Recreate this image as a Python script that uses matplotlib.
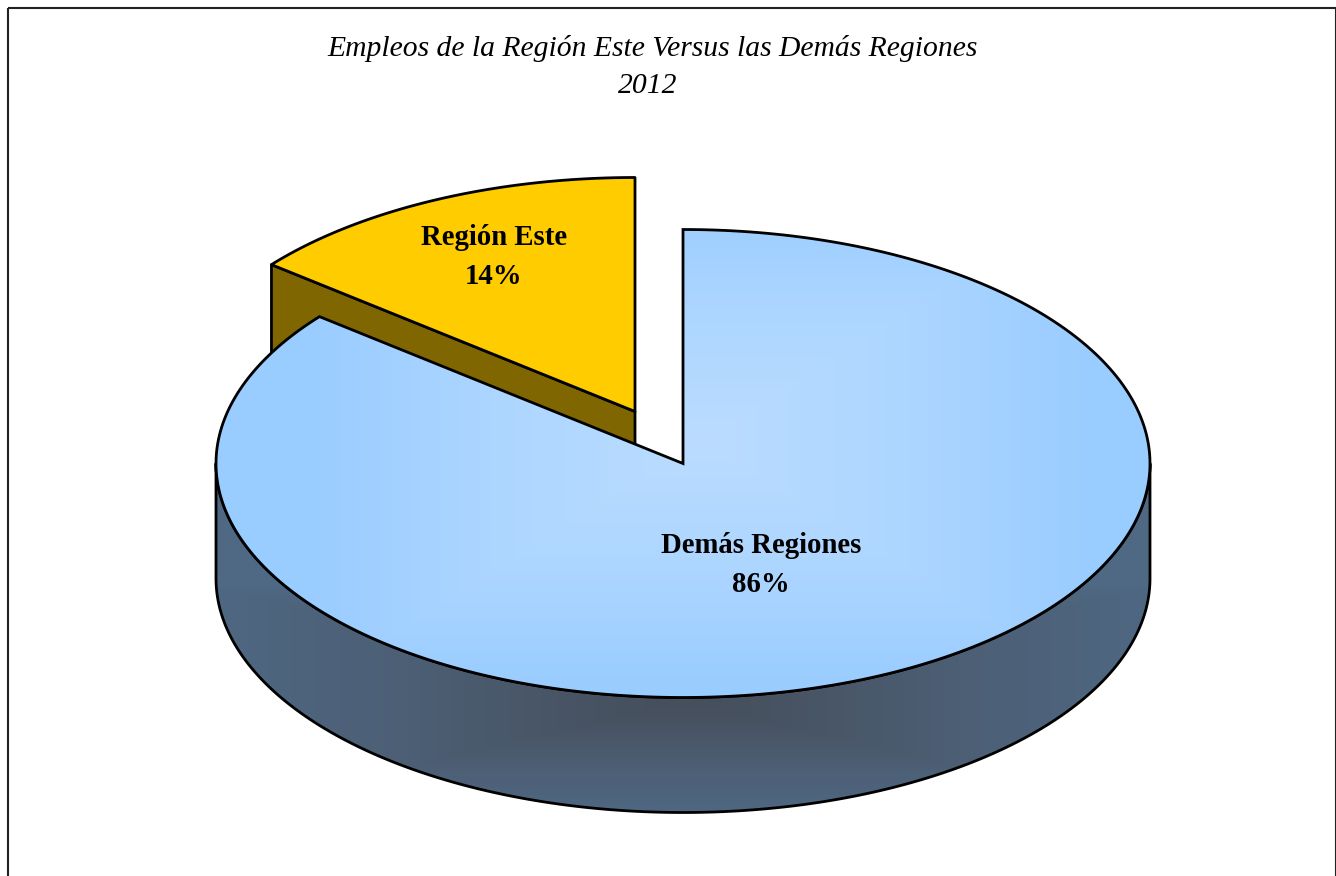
import numpy as np
import matplotlib
matplotlib.use("Agg")
import matplotlib.pyplot as plt
from matplotlib.patches import Polygon, Rectangle
from matplotlib.colors import LinearSegmentedColormap

labels = ["Demás Regiones", "Región Este"]
values = [85.8, 14.2]
title = "Empleos de la Región Este Versus las Demás Regiones"
year = "2012"

plt.rcParams['font.family'] = ['Liberation Serif', 'DejaVu Serif']
cx, cy, rx, ry, depth = 683, 463.5, 467, 234, 115
offx, offy = -48, -52

def ell(t, x0, y0):
    t = np.radians(t)
    return np.column_stack([x0 + rx * np.sin(t), y0 - ry * np.cos(t)])

fig = plt.figure(figsize=(13.36, 8.76), dpi=100)
ax = fig.add_axes([0, 0, 1, 1])
ax.set_xlim(0, 1336)
ax.set_ylim(876, 0)
ax.axis('off')
lw = 2.0
edge = 'black'

split = 360 * values[0] / sum(values)

# pulled out slice, its walls go first
yx, yy = cx + offx, cy + offy
yellow_arc = ell(np.linspace(split, 360, 60), yx, yy)
p0 = yellow_arc[0]
wall = np.array([p0, [yx, yy], [yx, yy + depth], [p0[0], p0[1] + depth]])
ax.add_patch(Polygon(wall, fc='#806600', ec=edge, lw=lw, joinstyle='round', zorder=1))
ax.add_patch(Polygon(np.vstack([yellow_arc, [[yx, yy]]]), fc='#FFCC00', ec=edge, lw=lw,
                     joinstyle='round', zorder=2))

# side of big slice
xs = np.arange(200, 1170)
ys = np.arange(450, 830)
X, Y = np.meshgrid(xs, ys)
d = np.maximum(np.abs(X - cx) / 480, np.abs(Y - 700) / 115)
d = np.clip(d, 0, 1) ** 1.25
side_cmap = LinearSegmentedColormap.from_list('side', ['#464F5C', '#4C5F75', '#4F6883'])
front = np.vstack([ell(np.linspace(90, 270, 200), cx, cy),
                   ell(np.linspace(270, 90, 200), cx, cy + depth)])
side = Polygon(front, fc='none', ec=edge, lw=lw, joinstyle='round', zorder=4)
ax.add_patch(side)
im = ax.imshow(d, extent=(200, 1170, 830, 450), cmap=side_cmap, vmin=0, vmax=1, aspect='auto', zorder=3)
im.set_clip_path(side)

# top of big slice
xs = np.arange(210, 1160)
ys = np.arange(225, 705)
X, Y = np.meshgrid(xs, ys)
d = np.maximum(np.abs(X - 700) / 400, np.abs(Y - 440) / 250)
d = np.clip(d, 0, 1)
top_cmap = LinearSegmentedColormap.from_list('top', ['#BBDCFF', '#ADD6FF', '#99CCFF'])
blue = np.vstack([[[cx, cy]], ell(np.linspace(0, split, 300), cx, cy)])
top = Polygon(blue, fc='none', ec=edge, lw=lw, joinstyle='miter', zorder=6)
ax.add_patch(top)
im = ax.imshow(d, extent=(210, 1160, 705, 225), cmap=top_cmap, vmin=0, vmax=1, aspect='auto', zorder=5)
im.set_clip_path(top)
ax.set_xlim(0, 1336)
ax.set_ylim(876, 0)

# frame runs off the bottom of the picture
ax.add_patch(Rectangle((7.5, 8), 1328, 900, fc='none', ec='#222222', lw=1.5, zorder=0))

ax.text(652.5, 49, title, ha='center', va='center', style='italic', fontsize=21.3)
ax.text(648, 86, year, ha='center', va='center', style='italic', fontsize=21.3)
ax.text(761, 565, "%s\n%.0f%%" % (labels[0], values[0]), ha='center', va='center',
        fontweight='bold', fontsize=20.7, linespacing=1.55, zorder=7)
ax.text(494, 257, "%s\n%.0f%%" % (labels[1], values[1]), ha='center', va='center',
        fontweight='bold', fontsize=20.7, linespacing=1.55, zorder=7)

fig.savefig("out.png", dpi=100)
